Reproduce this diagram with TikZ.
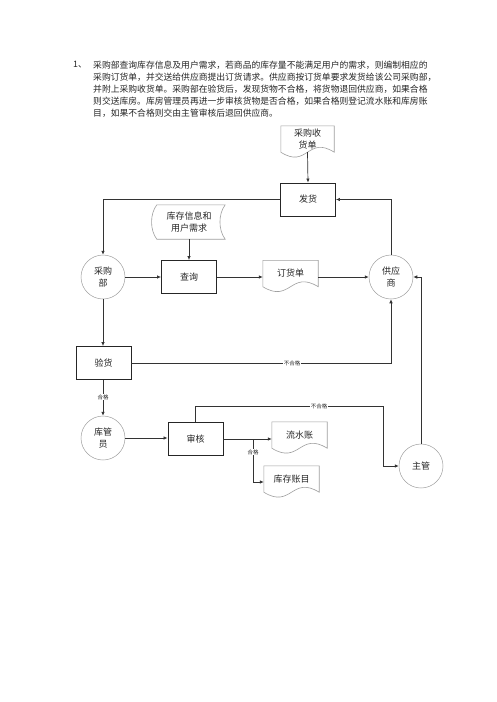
\documentclass[tikz,border=0pt]{standalone}
\usepackage{fontspec}
\setmainfont{Noto Sans CJK SC}
\usetikzlibrary{arrows.meta,calc}
\XeTeXlinebreaklocale "zh"
\XeTeXlinebreakskip=0pt plus 3pt
\begin{document}
\begin{tikzpicture}[x=1pt,y=-1pt,
  every node/.style={text=black!85},
  para/.style={anchor=west, inner sep=0pt, font=\fontsize{8.8}{10}\selectfont},
  proc/.style={draw=black!85, line width=0.9pt, minimum width=55pt, minimum height=33pt, inner sep=0pt, font=\fontsize{9}{12}\selectfont},
  ent/.style={circle, draw=gray!75, line width=0.5pt, minimum size=44pt, inner sep=0pt, align=center, font=\fontsize{9}{12}\selectfont},
  docbox/.style={rectangle, minimum width=55pt, minimum height=26pt, inner sep=0pt, align=center, font=\fontsize{9}{12}\selectfont},
  docline/.style={draw=gray!75, line width=0.6pt},
  flow/.style={draw=black!80, line width=0.7pt, -{Latex[length=4pt,width=3.5pt]}},
  plain/.style={draw=black!80, line width=0.7pt},
  lbl/.style={fill=white, inner sep=0.6pt, font=\fontsize{5.5}{6}\selectfont}
]
\useasboundingbox[fill=white] (0,0) rectangle (496,702);

% paragraph
\node[para] (num) at (73,65) {1、};
\node[para] (p1) at (93,65) {\hbox to 337pt{采购部查询库存信息及用户需求，若商品的库存量不能满足用户的需求，则编制相应的}};
\node[para] (p2) at (93,77) {\hbox to 337pt{采购订货单，并交送给供应商提出订货请求。供应商按订货单要求发货给该公司采购部，}};
\node[para] (p3) at (93,89) {\hbox to 337pt{并附上采购收货单。采购部在验货后，发现货物不合格，将货物退回供应商，如果合格}};
\node[para] (p4) at (93,101) {\hbox to 337pt{则交送库房。库房管理员再进一步审核货物是否合格，如果合格则登记流水账和库房账}};
\node[para] (p5) at (93,113) {目，如果不合格则交由主管审核后退回供应商。};

% documents
\newcommand{\docoutline}[1]{%
  \draw[docline] (#1.north west) -- (#1.north east) -- (#1.south east)
    .. controls ($(#1.south)+(0,-17)$) and ($(#1.south)+(0,17)$) .. (#1.south west) -- cycle;}

\node[docbox, minimum width=53pt] (dsh) at (307.5,139) {采购收\\货单};
\docoutline{dsh}
\node[docbox] (ddh) at (290.5,273.5) {订货单};
\docoutline{ddh}
\node[docbox] (dls) at (299.5,435) {流水账};
\docoutline{dls}
\node[docbox] (dkz) at (291.5,479) {库存账目};
\docoutline{dkz}

% stored data
\node[docbox, minimum width=72pt, minimum height=34pt] (kc) at (189,222) {库存信息和\\用户需求};
\draw[docline] ($(kc.north west)+(4,0)$) -- ($(kc.north east)+(0,0)$)
  .. controls ($(kc.east)+(-7,-8)$) and ($(kc.east)+(-7,8)$) .. (kc.south east)
  -- ($(kc.south west)+(4,0)$)
  .. controls ($(kc.west)+(-3,8)$) and ($(kc.west)+(-3,-8)$) .. ($(kc.north west)+(4,0)$) -- cycle;

% processes
\node[proc] (fh) at (308,199.5) {发货};
\node[proc] (cx) at (189,277) {查询};
\node[proc] (yh) at (103.5,363) {验货};
\node[proc] (sh) at (195.5,439) {审核};

% entities
\node[ent] (cgb) at (103,277) {采购\\部};
\node[ent] (gys) at (391,277) {供应\\商};
\node[ent] (kgy) at (103,438) {库管\\员};
\node[ent] (zg) at (421,466) {主管};

% connectors
\draw[flow] (dsh.south) -- (fh.north);
\draw[flow] (fh.west) -| (cgb.north);
\draw[flow] (kc.south) -- (cx.north);
\draw[flow] (cgb.east) -- (cx.west);
\draw[flow] (cx.east) -- (cx.east -| ddh.west);
\draw[flow] (ddh.east |- gys.west) -- (gys.west);
\draw[flow] (gys.north) |- (fh.east);
\draw[flow] (cgb.south) -- (cgb.south |- yh.north);
\draw[flow] (yh.east) -| (gys.south);
\node[lbl] (l1) at (292,363) {不合格};
\draw[flow] (yh.south -| kgy.north) -- (kgy.north);
\node[lbl] (l2) at (103,397) {合格};
\draw[flow] (kgy.east) -- (kgy.east -| sh.west);
\draw[flow] (sh.east) -- (sh.east -| dls.west);
\coordinate (br) at (253,439);
\draw[flow] (br) |- ($(dkz.west)+(0,3)$);
\node[lbl] (l3) at (253,452) {合格};
\coordinate (bt) at (383,406);
\draw[plain] (sh.north) |- (bt);
\draw[flow] (bt) |- (zg.west);
\node[lbl] (l4) at (319,406) {不合格};
\draw[flow] (zg.north) |- (gys.east);
\end{tikzpicture}
\end{document}
